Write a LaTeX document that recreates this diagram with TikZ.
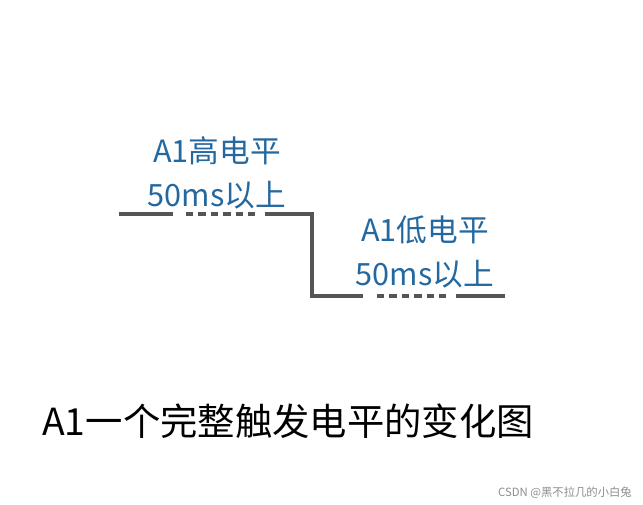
\documentclass[tikz,border=0pt]{standalone}
\usepackage{fontspec}
\setmainfont{Noto Sans CJK SC}
\usepackage{xcolor}
\usetikzlibrary{positioning}
\definecolor{levelblue}{HTML}{2468A0}
\definecolor{wavegray}{HTML}{555555}

\begin{document}
\begin{tikzpicture}[
    x=0.75pt, y=-0.75pt,
    wave/.style={draw=wavegray, line width=2.3pt},
    gapdash/.style={wave, dash pattern=on 5.5pt off 3.8pt},
    levellabel/.style={text=levelblue, font=\fontsize{23}{33}\selectfont, align=center, inner sep=0pt},
    caption/.style={text=black, font=\fontsize{28}{34}\selectfont, inner sep=0pt}
]
    \useasboundingbox (0,0) rectangle (643,504);

    % 1. high level, then the falling edge, then low level
    \coordinate (h0) at (119,214);
    \coordinate (h1) at (173,214);
    \coordinate (h2) at (186,214);
    \coordinate (h3) at (256,214);
    \coordinate (h4) at (265,214);
    \coordinate (edge) at (312,214);
    \coordinate (l0) at (312,296);
    \coordinate (l1) at (363,296);
    \coordinate (l2) at (377,296);
    \coordinate (l3) at (446,296);
    \coordinate (l4) at (456,296);
    \coordinate (l5) at (505,296);

    \draw[wave] (h0) -- (h1);
    \draw[gapdash] (h2) -- (h3);
    \draw[wave, line join=miter] (h4) -- (edge) -- (l0) -- (l1);
    \draw[gapdash] (l2) -- (l3);
    \draw[wave] (l4) -- (l5);

    % 2. labels
    \node[levellabel] (high) at (217,173) {A1高电平\\50ms以上};
    \node[levellabel] (low) at (425,252) {A1低电平\\50ms以上};

    % 3. caption
    \node[caption] (title) at (288,421) {A1一个完整触发电平的变化图};
    \node[text=black!45, font=\fontsize{8.5}{10}\selectfont, inner sep=0pt] (credit) at (565,493) {CSDN @黑不拉几的小白兔};

\end{tikzpicture}
\end{document}
